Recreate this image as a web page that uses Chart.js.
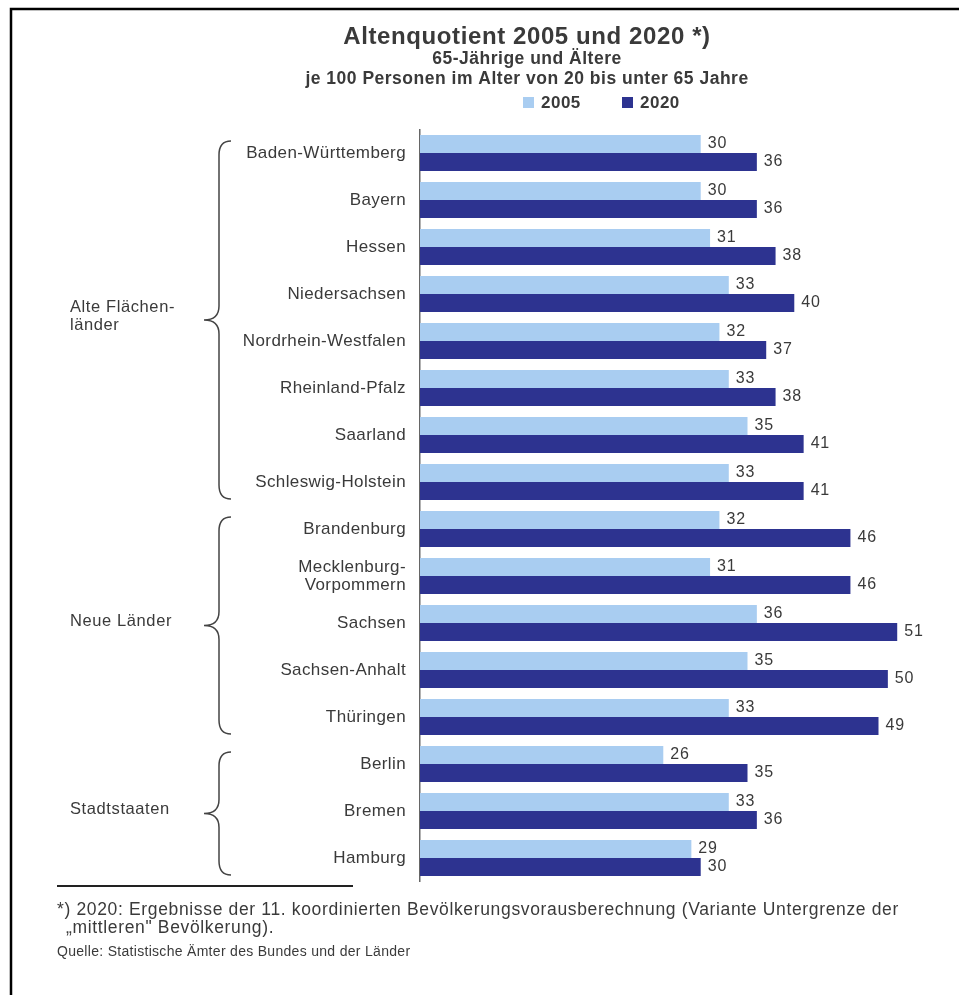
<!DOCTYPE html>
<html>
<head>
<meta charset="utf-8">
<script src="https://cdn.jsdelivr.net/npm/chart.js@4/dist/chart.umd.min.js"></script>
<style>
  html, body { margin: 0; padding: 0; background: #fff; }
</style>
</head>
<body>
<canvas id="chart" width="959" height="995"></canvas>
<script>
const laender = [
  'Baden-Württemberg', 'Bayern', 'Hessen', 'Niedersachsen', 'Nordrhein-Westfalen',
  'Rheinland-Pfalz', 'Saarland', 'Schleswig-Holstein', 'Brandenburg',
  ['Mecklenburg-', 'Vorpommern'], 'Sachsen', 'Sachsen-Anhalt', 'Thüringen',
  'Berlin', 'Bremen', 'Hamburg'
];
const werte2005 = [30, 30, 31, 33, 32, 33, 35, 33, 32, 31, 36, 35, 33, 26, 33, 29];
const werte2020 = [36, 36, 38, 40, 37, 38, 41, 41, 46, 46, 51, 50, 49, 35, 36, 30];

const gruppen = [['Alte Flächen-', 'länder'], ['Neue Länder'], ['Stadtstaaten']];
const gruppeVon = [0, 8, 13];
const gruppeBis = [7, 12, 15];

const titel = 'Altenquotient 2005 und 2020 *)';
const untertitel = ['65-Jährige und Ältere', 'je 100 Personen im Alter von 20 bis unter 65 Jahre'];
const fussnote = [
  '*) 2020: Ergebnisse der 11. koordinierten Bevölkerungsvorausberechnung (Variante Untergrenze der',
  '„mittleren" Bevölkerung).'
];
const quelle = 'Quelle: Statistische Ämter des Bundes und der Länder';

const hell = '#a9cdf1';
const dunkel = '#2d3390';
const textFarbe = '#3a3a3a';
const schrift = '"Liberation Sans", Arial, sans-serif';

// braces drawn left of the category labels
function klammer(ctx, top, bottom, mid) {
  const xl = 219, xr = 231, xs = 204, r = 14;
  ctx.beginPath();
  ctx.moveTo(xr, top);
  ctx.quadraticCurveTo(xl, top, xl, top + r);
  ctx.lineTo(xl, mid - r);
  ctx.quadraticCurveTo(xl, mid, xs, mid);
  ctx.quadraticCurveTo(xl, mid, xl, mid + r);
  ctx.lineTo(xl, bottom - r);
  ctx.quadraticCurveTo(xl, bottom, xr, bottom);
  ctx.stroke();
}

// the scan is a bit wide, so text gets a little letter spacing
const sperren = {
  id: 'sperren',
  beforeDraw(chart) {
    chart.ctx.letterSpacing = '0.4px';
  }
};

const extras = {
  id: 'extras',
  afterDraw(chart) {
    const ctx = chart.ctx;
    const y = chart.scales.y;
    ctx.save();

    // frame
    ctx.strokeStyle = '#000';
    ctx.lineWidth = 2.5;
    ctx.beginPath();
    ctx.moveTo(959, 9);
    ctx.lineTo(11, 9);
    ctx.lineTo(11, 995);
    ctx.stroke();

    // title block
    ctx.fillStyle = textFarbe;
    ctx.textAlign = 'center';
    ctx.textBaseline = 'middle';
    ctx.letterSpacing = '0.6px';
    ctx.font = 'bold 24px ' + schrift;
    ctx.fillText(titel, 527, 37);
    ctx.letterSpacing = '0.5px';
    ctx.font = 'bold 17.5px ' + schrift;
    ctx.fillText(untertitel[0], 527, 59);
    ctx.fillText(untertitel[1], 527, 79);

    // legend
    const legX = [523, 622];
    ctx.textAlign = 'left';
    chart.data.datasets.forEach((ds, i) => {
      ctx.fillStyle = ds.backgroundColor;
      ctx.fillRect(legX[i], 97, 11, 11);
      ctx.fillStyle = textFarbe;
      ctx.font = 'bold 17px ' + schrift;
      ctx.fillText(ds.label, legX[i] + 18, 103);
    });

    // value labels
    ctx.letterSpacing = '0.8px';
    ctx.font = '16px ' + schrift;
    ctx.fillStyle = textFarbe;
    chart.data.datasets.forEach((ds, i) => {
      chart.getDatasetMeta(i).data.forEach((bar, j) => {
        ctx.fillText(ds.data[j], bar.x + 7, bar.y);
      });
    });

    // group braces + labels
    ctx.letterSpacing = '0.6px';
    ctx.strokeStyle = '#444';
    ctx.lineWidth = 1.5;
    gruppen.forEach((g, i) => {
      const top = y.getPixelForValue(gruppeVon[i]) - 12;
      const bottom = y.getPixelForValue(gruppeBis[i]) + 17;
      const mid = (top + bottom) / 2;
      klammer(ctx, top, bottom, mid);
      ctx.font = '16.5px ' + schrift;
      ctx.fillStyle = textFarbe;
      g.forEach((line, k) => {
        ctx.fillText(line, 70, mid - 4 + (k - (g.length - 1) / 2) * 18);
      });
    });

    // footnote
    ctx.strokeStyle = '#222';
    ctx.lineWidth = 2;
    ctx.beginPath();
    ctx.moveTo(57, 886);
    ctx.lineTo(353, 886);
    ctx.stroke();
    ctx.letterSpacing = '0.65px';
    ctx.font = '17.5px ' + schrift;
    ctx.fillText(fussnote[0], 57, 910);
    ctx.fillText(fussnote[1], 66, 928);
    ctx.letterSpacing = '0.3px';
    ctx.font = '14px ' + schrift;
    ctx.fillText(quelle, 57, 952);

    ctx.restore();
  }
};

new Chart(document.getElementById('chart'), {
  type: 'bar',
  data: {
    labels: laender,
    datasets: [
      { label: '2005', data: werte2005, backgroundColor: hell },
      { label: '2020', data: werte2020, backgroundColor: dunkel }
    ]
  },
  options: {
    indexAxis: 'y',
    responsive: false,
    animation: false,
    events: [],
    categoryPercentage: 0.77,
    barPercentage: 1,
    layout: { padding: { top: 129.5, bottom: 113.5, left: 0, right: 15 } },
    plugins: {
      legend: { display: false },
      title: { display: false },
      tooltip: { enabled: false }
    },
    scales: {
      x: { display: false, min: 0, max: 56 },
      y: {
        afterFit(scale) { scale.width = 420; },
        grid: { display: false, drawTicks: false },
        border: { display: true, color: '#666', width: 1.5 },
        ticks: {
          color: textFarbe,
          padding: 14,
          font: { family: schrift, size: 17, lineHeight: 1.08 }
        }
      }
    }
  },
  plugins: [sperren, extras]
});
</script>
</body>
</html>
